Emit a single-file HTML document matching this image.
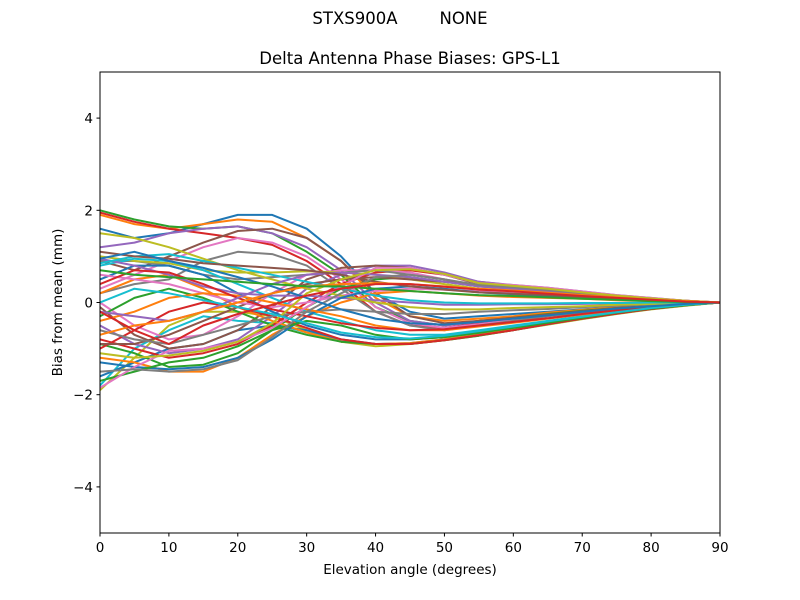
<!DOCTYPE html>
<html><head><meta charset="utf-8"><style>
body{margin:0;background:#fff;}
svg{display:block;font-family:"DejaVu Sans","Liberation Sans",sans-serif;}
</style></head><body>
<svg id="chart" width="800" height="600" viewBox="0 0 800 600">
<rect width="800" height="600" fill="#fff"/>
<text x="400" y="24" text-anchor="middle" font-size="16.5" xml:space="preserve">STXS900A        NONE</text>
<text x="410" y="64" text-anchor="middle" font-size="16.5">Delta Antenna Phase Biases: GPS-L1</text>
<defs><clipPath id="pa"><rect x="100" y="72" width="620" height="461"/></clipPath></defs>
<g id="lines" clip-path="url(#pa)"></g>
<g id="axes"></g>
<rect x="100" y="72" width="620" height="461" fill="none" stroke="#000" stroke-width="1"/>
<text x="410" y="574" text-anchor="middle" font-size="13.5">Elevation angle (degrees)</text>
<text transform="translate(62,302.5) rotate(-90)" text-anchor="middle" font-size="13.5">Bias from mean (mm)</text>
</svg>
<script>
const elevations=[0,5,10,15,20,25,30,35,40,45,50,55,60,65,70,75,80,85,90];
const xTicks=[0,10,20,30,40,50,60,70,80,90];
const yTicks=[-4,-2,0,2,4];
const yTickLabels=["\u22124","\u22122","0","2","4"];
const s1=[1.6,1.4,1.5,1.7,1.9,1.9,1.6,1.0,0.2,-0.2,-0.35,-0.3,-0.25,-0.2,-0.15,-0.1,-0.06,-0.03,0];
const s2=[1.9,1.7,1.6,1.7,1.8,1.75,1.4,0.9,0.1,-0.3,-0.4,-0.35,-0.3,-0.22,-0.16,-0.1,-0.06,-0.03,0];
const s3=[2.0,1.8,1.65,1.6,1.65,1.5,1.1,0.6,-0.1,-0.4,-0.5,-0.4,-0.33,-0.25,-0.18,-0.12,-0.07,-0.03,0];
const s4=[1.95,1.75,1.6,1.5,1.4,1.25,0.9,0.4,-0.2,-0.5,-0.55,-0.45,-0.36,-0.27,-0.2,-0.13,-0.07,-0.03,0];
const s5=[1.2,1.3,1.5,1.6,1.65,1.5,1.2,0.7,0.0,-0.4,-0.5,-0.42,-0.35,-0.27,-0.2,-0.13,-0.07,-0.03,0];
const s6=[0.9,0.7,1.0,1.3,1.55,1.6,1.4,0.9,0.2,-0.3,-0.45,-0.4,-0.33,-0.26,-0.19,-0.12,-0.07,-0.03,0];
const s7=[0.3,0.6,0.9,1.2,1.4,1.3,1.0,0.5,-0.1,-0.45,-0.55,-0.47,-0.38,-0.29,-0.21,-0.14,-0.08,-0.03,0];
const s8=[0.2,0.4,0.5,0.9,1.1,1.05,0.8,0.3,-0.2,-0.5,-0.6,-0.5,-0.4,-0.3,-0.22,-0.14,-0.08,-0.03,0];
const s9=[-1.9,-1.2,-0.5,-0.2,-0.2,-0.3,-0.6,-0.85,-0.95,-0.9,-0.82,-0.72,-0.6,-0.48,-0.36,-0.25,-0.15,-0.07,0];
const s10=[-1.8,-1.0,-0.6,-0.3,-0.4,-0.45,-0.65,-0.85,-0.9,-0.9,-0.8,-0.7,-0.6,-0.47,-0.35,-0.24,-0.14,-0.06,0];
const s11=[-1.6,-1.3,-1.0,-0.9,-0.6,-0.5,-0.6,-0.8,-0.9,-0.88,-0.8,-0.7,-0.58,-0.46,-0.34,-0.23,-0.14,-0.06,0];
const s12=[-1.2,-1.3,-1.5,-1.5,-1.2,-0.7,-0.3,0.0,0.2,0.25,0.2,0.15,0.12,0.1,0.08,0.05,0.03,0.01,0];
const s13=[-0.9,-1.1,-1.4,-1.35,-1.1,-0.6,-0.1,0.3,0.5,0.55,0.45,0.35,0.3,0.25,0.18,0.12,0.07,0.03,0];
const s14=[-0.8,-1.0,-1.2,-1.1,-0.9,-0.5,0.0,0.4,0.65,0.7,0.6,0.45,0.37,0.3,0.22,0.15,0.09,0.04,0];
const s15=[-0.5,-0.9,-1.1,-1.0,-0.8,-0.3,0.3,0.6,0.8,0.8,0.65,0.45,0.38,0.32,0.24,0.16,0.1,0.04,0];
const s16=[-0.1,-0.7,-1.0,-0.9,-0.6,-0.1,0.5,0.75,0.8,0.75,0.6,0.4,0.35,0.3,0.22,0.15,0.09,0.04,0];
const s17=[0.0,-0.5,-0.8,-0.7,-0.3,0.2,0.6,0.7,0.7,0.65,0.5,0.35,0.3,0.25,0.19,0.13,0.08,0.03,0];
const s18=[0.9,0.9,0.8,0.6,0.5,0.55,0.6,0.65,0.7,0.6,0.5,0.35,0.3,0.25,0.19,0.13,0.08,0.03,0];
const s19=[1.0,0.9,0.85,0.7,0.65,0.65,0.68,0.65,0.6,0.5,0.4,0.3,0.26,0.22,0.17,0.12,0.07,0.03,0];
const s20=[0.8,0.95,0.9,0.7,0.4,0.1,-0.2,-0.4,-0.6,-0.7,-0.7,-0.6,-0.5,-0.4,-0.3,-0.2,-0.12,-0.05,0];
const s21=[0.5,0.8,0.8,0.6,0.2,-0.2,-0.5,-0.7,-0.8,-0.8,-0.75,-0.65,-0.55,-0.44,-0.33,-0.22,-0.13,-0.06,0];
const s22=[0.2,0.5,0.6,0.3,-0.1,-0.4,-0.65,-0.85,-0.9,-0.88,-0.8,-0.7,-0.58,-0.46,-0.34,-0.23,-0.14,-0.06,0];
const s23=[-0.3,0.1,0.3,0.1,-0.2,-0.5,-0.7,-0.85,-0.9,-0.9,-0.82,-0.72,-0.6,-0.47,-0.35,-0.24,-0.14,-0.06,0];
const s24=[-1.0,-0.6,-0.2,0.0,-0.1,-0.3,-0.55,-0.8,-0.9,-0.9,-0.82,-0.71,-0.6,-0.47,-0.35,-0.24,-0.14,-0.06,0];
const s25=[0.95,0.8,0.6,0.35,0.2,0.15,0.15,0.1,0.05,0.0,-0.05,-0.05,-0.04,-0.04,-0.03,-0.02,-0.01,0,0];
const s26=[-0.9,-0.9,-0.7,-0.4,-0.1,0.2,0.4,0.5,0.55,0.5,0.45,0.38,0.32,0.26,0.2,0.13,0.08,0.03,0];
const s27=[0.6,0.5,0.4,0.2,0.0,-0.1,0.0,0.15,0.25,0.3,0.28,0.24,0.2,0.16,0.12,0.08,0.05,0.02,0];
const s28=[-0.6,-0.8,-0.9,-0.7,-0.5,-0.3,-0.2,-0.15,-0.2,-0.25,-0.25,-0.2,-0.17,-0.14,-0.1,-0.07,-0.04,-0.02,0];
const s29=[1.5,1.4,1.2,0.95,0.7,0.5,0.3,0.15,0.0,-0.1,-0.15,-0.15,-0.12,-0.1,-0.08,-0.05,-0.03,-0.01,0];
const s30=[0.85,1.0,1.05,0.9,0.75,0.6,0.45,0.3,0.15,0.05,0.0,-0.02,-0.02,-0.02,-0.01,-0.01,0,0,0];
const s31=[-1.3,-1.4,-1.45,-1.4,-1.2,-0.8,-0.3,0.1,0.3,0.35,0.3,0.22,0.18,0.14,0.1,0.07,0.04,0.02,0];
const s32=[-0.4,-0.2,0.1,0.2,0.15,0.0,-0.15,-0.3,-0.5,-0.6,-0.6,-0.52,-0.44,-0.35,-0.26,-0.17,-0.1,-0.04,0];
const s33=[-1.7,-1.5,-1.3,-1.2,-0.95,-0.6,-0.4,-0.5,-0.7,-0.8,-0.75,-0.66,-0.55,-0.44,-0.33,-0.22,-0.13,-0.06,0];
const s34=[0.4,0.7,0.65,0.4,0.1,-0.15,-0.3,-0.45,-0.55,-0.6,-0.58,-0.5,-0.42,-0.34,-0.25,-0.17,-0.1,-0.04,0];
const s35=[-0.2,-0.3,-0.4,-0.2,0.1,0.4,0.6,0.65,0.6,0.55,0.45,0.35,0.3,0.24,0.18,0.12,0.07,0.03,0];
const s36=[1.1,1.0,0.95,0.85,0.8,0.75,0.7,0.6,0.45,0.35,0.28,0.22,0.19,0.16,0.12,0.08,0.05,0.02,0];
const s37=[-1.85,-1.4,-1.05,-1.0,-0.85,-0.55,-0.1,0.35,0.75,0.75,0.6,0.42,0.38,0.32,0.24,0.16,0.1,0.04,0];
const s38=[-1.5,-1.45,-1.5,-1.45,-1.25,-0.75,-0.2,0.2,0.55,0.6,0.5,0.38,0.33,0.27,0.2,0.13,0.08,0.03,0];
const s39=[-1.1,-1.2,-1.15,-1.05,-0.85,-0.45,0.2,0.5,0.7,0.72,0.62,0.42,0.36,0.3,0.22,0.15,0.09,0.04,0];
const s40=[0.0,0.3,0.2,0.05,-0.1,-0.25,-0.45,-0.65,-0.75,-0.78,-0.72,-0.62,-0.52,-0.41,-0.31,-0.21,-0.12,-0.05,0];
const s41=[0.95,1.1,0.9,0.75,0.55,0.35,0.1,-0.15,-0.35,-0.45,-0.48,-0.42,-0.35,-0.28,-0.2,-0.13,-0.08,-0.03,0];
const s42=[-0.7,-0.5,-0.4,-0.2,0.0,0.2,0.35,0.4,0.42,0.4,0.35,0.3,0.26,0.21,0.16,0.11,0.06,0.03,0];
const s43=[0.7,0.6,0.55,0.5,0.45,0.4,0.35,0.35,0.3,0.25,0.2,0.16,0.14,0.11,0.08,0.06,0.03,0.01,0];
const s44=[-0.2,-0.6,-0.9,-0.5,-0.25,-0.05,0.15,0.3,0.4,0.4,0.34,0.28,0.24,0.19,0.14,0.1,0.06,0.02,0];
const series=[s1,s2,s3,s4,s5,s6,s7,s8,s9,s10,s11,s12,s13,s14,s15,s16,s17,s18,s19,s20,s21,s22,s23,s24,s25,s26,s27,s28,s29,s30,s31,s32,s33,s34,s35,s36,s37,s38,s39,s40,s41,s42,s43,s44];
const colors=["#1f77b4","#ff7f0e","#2ca02c","#d62728","#9467bd","#8c564b","#e377c2","#7f7f7f","#bcbd22","#17becf"];
const NS="http://www.w3.org/2000/svg";
const X0=100,X1=720,Y0=533,Y1=72;
function xs(v){return X0+(v-0)/(90-0)*(X1-X0);}
function ys(v){return Y0-(v-(-5))/(10)*(Y0-Y1);}
const lg=document.getElementById('lines');
series.forEach((s,i)=>{
  const p=document.createElementNS(NS,'polyline');
  p.setAttribute('points',s.map((v,j)=>xs(elevations[j]).toFixed(1)+','+ys(v).toFixed(1)).join(' '));
  p.setAttribute('fill','none');
  p.setAttribute('stroke',colors[i%10]);
  p.setAttribute('stroke-width','2');
  p.setAttribute('stroke-linejoin','round');
  
  
  lg.appendChild(p);
});
const ax=document.getElementById('axes');
xTicks.forEach(t=>{
  const l=document.createElementNS(NS,'line');
  l.setAttribute('x1',xs(t));l.setAttribute('x2',xs(t));l.setAttribute('y1',Y0);l.setAttribute('y2',Y0+3.5);l.setAttribute('stroke','#000');
  
  
  ax.appendChild(l);
  const tx=document.createElementNS(NS,'text');
  tx.setAttribute('x',xs(t));tx.setAttribute('y',Y0+19);tx.setAttribute('text-anchor','middle');tx.setAttribute('font-size','13.5');
  tx.textContent=t;
  
  
  ax.appendChild(tx);
});
yTicks.forEach((t,i)=>{
  const l=document.createElementNS(NS,'line');
  l.setAttribute('x1',X0-3.5);l.setAttribute('x2',X0);l.setAttribute('y1',ys(t));l.setAttribute('y2',ys(t));l.setAttribute('stroke','#000');
  
  
  ax.appendChild(l);
  const tx=document.createElementNS(NS,'text');
  tx.setAttribute('x',X0-7);tx.setAttribute('y',ys(t)+5);tx.setAttribute('text-anchor','end');tx.setAttribute('font-size','13.5');
  tx.textContent=yTickLabels[i];
  
  
  ax.appendChild(tx);
});
</script>
</body></html>
